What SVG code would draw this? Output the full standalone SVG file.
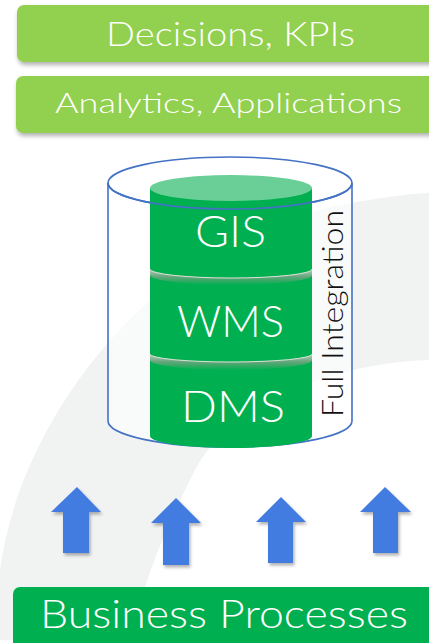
<svg xmlns="http://www.w3.org/2000/svg" width="429" height="643" viewBox="0 0 429 643">
<defs>
<style>
.lbl{font-family:"Lato","Liberation Sans","DejaVu Sans",sans-serif;font-weight:300;fill:#fff}
.box1{fill:#92D050}
.box2{fill:#00B050}
.arrow{fill:#437CE0}
.outline{fill:none;stroke:#4472C4;stroke-width:1.6}
.sep{fill:url(#sepGrad)}
.rim{fill:none;stroke:#F2E4E4;stroke-width:1;opacity:0.9}
</style>
<filter id="shadow" x="-10%" y="-20%" width="130%" height="160%">
<feDropShadow dx="1" dy="3" stdDeviation="2" flood-color="#000" flood-opacity="0.3"/>
</filter>
<filter id="ashadow" x="-30%" y="-20%" width="160%" height="150%">
<feDropShadow dx="1.5" dy="2.5" stdDeviation="1.8" flood-color="#000" flood-opacity="0.3"/>
</filter>
<linearGradient id="sepGrad" x1="0" y1="0" x2="0" y2="1">
<stop offset="0" stop-color="#B8CFC0"/>
<stop offset="0.5" stop-color="#63A57A"/>
<stop offset="1" stop-color="#00B050"/>
</linearGradient>
</defs>
<rect width="429" height="643" fill="#fff"/>
<path id="swoosh" d="M0,570 C20,420 150,240 345,204 C380,198 405,194 430,193 L430,360 C330,362 225,410 195,470 C175,510 155,550 135,620 L60,640 L0,640 Z" fill="#F1F2F2"/>

<g id="decisions">
<rect class="box1" x="17" y="5" width="440" height="57" rx="7" filter="url(#shadow)"/>
<text class="lbl" x="230.5" y="46" font-size="33" text-anchor="middle" textLength="249" lengthAdjust="spacingAndGlyphs">Decisions, KPIs</text>
</g>
<g id="analytics">
<rect class="box1" x="16" y="76" width="440" height="57" rx="7" filter="url(#shadow)"/>
<text class="lbl" x="228.5" y="112.5" font-size="28" text-anchor="middle" textLength="347" lengthAdjust="spacingAndGlyphs">Analytics, Applications</text>
</g>

<g id="integration">
<path d="M108,183 L108,421 A122,26 0 0 0 352,421 L352,183 Z" fill="#fff" fill-opacity="0.6"/>
<ellipse cx="230" cy="183" rx="122" ry="26" fill="#fff" fill-opacity="0.6"/>
<path class="outline" d="M108,183 L108,421 A122,26 0 0 0 352,421 L352,183"/>
<ellipse class="outline" cx="230" cy="183" rx="122" ry="26"/>
<text x="343" y="417" font-family="Lato, Liberation Sans, DejaVu Sans, sans-serif" font-weight="300" font-size="30" fill="#111" transform="rotate(-90 343 417)" textLength="207" lengthAdjust="spacingAndGlyphs">Full Integration</text>
</g>

<g id="stack">
<path d="M150,188 L150,436 A81,12 0 0 0 312,436 L312,188 Z" fill="#00B050"/>
<ellipse cx="231" cy="188" rx="81" ry="13" fill="#69CF97"/>
<path class="outline" d="M108,183 A122,26 0 0 0 352,183"/>
</g>
<g id="gis">
<text class="lbl" x="230.5" y="247" font-size="44" text-anchor="middle" textLength="71" lengthAdjust="spacingAndGlyphs">GIS</text>
</g>
<g id="wms">
<path class="sep" d="M150,269 A81,9 0 0 0 312,269 L312,275 A81,10 0 0 1 150,275 Z"/>
<path class="rim" d="M150,269 A81,9 0 0 0 312,269"/>
<text class="lbl" x="230.5" y="337" font-size="44" text-anchor="middle" textLength="107" lengthAdjust="spacingAndGlyphs">WMS</text>
</g>
<g id="dms">
<path class="sep" d="M150,354 A81,8 0 0 0 312,354 L312,360 A81,10 0 0 1 150,360 Z"/>
<path class="rim" d="M150,354 A81,8 0 0 0 312,354"/>
<text class="lbl" x="233" y="422" font-size="44" text-anchor="middle" textLength="104" lengthAdjust="spacingAndGlyphs">DMS</text>
</g>

<g id="connectors">
<path class="arrow" filter="url(#ashadow)" d="M77,487 L101,512 L89,512 L89,553 L63,553 L63,512 L51,512 Z"/>
<path class="arrow" filter="url(#ashadow)" d="M176,498 L201,523 L189,523 L189,565 L163,565 L163,523 L151,523 Z"/>
<path class="arrow" filter="url(#ashadow)" d="M281,497 L306,522 L293,522 L293,563 L268,563 L268,522 L256,522 Z"/>
<path class="arrow" filter="url(#ashadow)" d="M385,487 L411,512 L398,512 L398,553 L373,553 L373,512 L360,512 Z"/>
</g>

<g id="business">
<rect class="box2" x="13" y="587" width="440" height="70" rx="7"/>
<text class="lbl" x="224" y="628" font-size="39" text-anchor="middle" textLength="368" lengthAdjust="spacingAndGlyphs">Business Processes</text>
</g>
</svg>
